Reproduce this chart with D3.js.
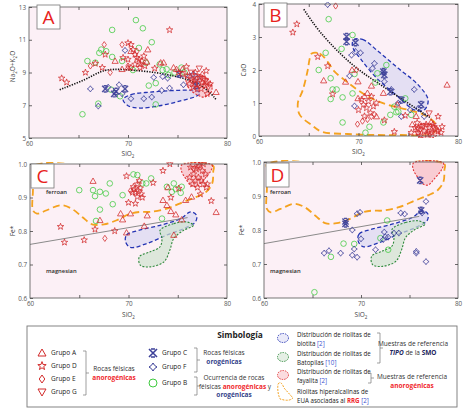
<!DOCTYPE html>
<html>
<head>
<meta charset="utf-8">
<script src="https://cdn.jsdelivr.net/npm/d3@7"></script>
<style>
  body { margin: 0; background: #fff; }
  svg { display: block; }
  text { font-family: "Open Sans", "DejaVu Sans", sans-serif; }
</style>
</head>
<body>
<div id="chart"></div>
<script>
// Diagramas de discriminación: A (álcalis), B (CaO), C y D (Fe*) vs SiO2

// ---- data: panel A  [SiO2, Na2O+K2O]
const aGroupA = [[72.0,10.4],[68.7,9.7],[70.0,9.3],[69.4,9.2],[73.6,9.6],[71.9,9.65],[78.9,7.8],[74.6,9.3],[74.9,9.2],[77.9,8.45],[70.3,10.3],[73.3,9.6],[75.5,9.2],[76.8,8.3],[77.5,8.9]]
const aGroupD = [[74.2,11.6],[63.3,8.65],[63.8,8.4],[65.7,9.0],[66.7,9.55],[67.4,9.3],[70.0,10.8],[70.3,10.7],[70.5,10.4],[70.7,10.1],[70.9,9.9],[71.1,9.8],[71.4,9.7],[71.6,10.0],[71.2,9.5],[70.7,9.5],[70.3,9.3],[71.2,9.3],[71.7,9.4],[70.0,9.8],[69.5,9.9],[67.7,10.1],[72.7,9.25],[77.9,9.1],[75.9,9.35],[76.0,8.8],[76.4,8.6],[76.8,8.5],[77.2,8.7],[77.5,8.4],[77.8,8.2],[76.6,8.1],[77.0,8.0],[77.4,8.0],[78.0,7.7],[76.2,8.3],[75.5,8.9],[76.8,9.0],[77.6,8.6],[78.3,8.3],[75.1,9.0]]
const aGroupE = [[67.6,10.7],[69.4,10.7],[70.9,10.3],[70.0,9.4],[66.2,9.4],[68.2,9.0],[76.5,8.5],[77.1,8.3]]
const aGroupG = [[77.2,9.25],[76.4,9.0],[77.8,8.5],[76.9,8.6],[78.1,8.1]]
const aGroupC = [[68.6,7.7],[68.8,7.85],[69.7,8.0],[67.7,8.0],[76.9,8.2],[75.2,8.9]]
const aGroupF = [[69.7,10.35],[66.2,8.0],[69.1,8.25],[68.0,8.1],[67.0,6.95],[69.4,7.7],[70.3,7.4],[71.6,7.4],[72.4,7.5],[73.4,7.9],[74.2,8.05],[73.5,8.75],[74.0,8.65],[72.6,8.7],[75.6,8.25],[76.2,8.75],[77.0,8.65],[76.6,8.9]]
const aGroupB = [[70.8,12.2],[71.5,11.7],[68.4,11.6],[72.4,10.85],[71.1,10.5],[67.3,10.4],[67.1,10.2],[67.8,10.3],[65.9,9.7],[66.7,9.6],[68.4,9.95],[69.4,9.7],[71.8,9.6],[73.2,9.5],[73.9,9.2],[73.5,9.15],[74.7,9.0],[75.4,9.3],[74.1,8.85],[75.7,9.0],[72.1,8.2],[72.8,8.35],[68.3,7.95],[69.2,7.55],[67.0,7.1],[72.8,7.05],[65.4,6.45],[70.5,9.15]]
const aTrend = [[63.1,7.95],[65.9,8.6],[67.2,9.1],[68.5,9.22],[70.5,9.15],[72.9,9.0],[74.6,8.8],[76.3,8.55],[78.0,8.0],[78.9,7.35]]
const aBiotite = [[69.5,7.35],[70.3,7.65],[72.2,7.8],[74.6,7.9],[76.6,7.9],[77.3,7.75],[76.9,7.55],[75.2,7.25],[73.2,6.97],[71.2,6.83],[70.0,6.97]]
const aFayalite = [[75.9,8.85],[77.4,8.85],[78.4,8.35],[78.4,7.8],[77.7,7.5],[77.1,7.6],[76.2,8.0],[75.9,8.4]]

// ---- data: panel B  [SiO2, CaO]
const bGroupA = [[78.9,1.55],[66.5,1.68],[69.35,2.0],[69.95,1.65],[68.7,1.64],[69.95,1.14],[71.3,1.52],[70.6,1.2],[71.8,0.59],[75.8,0.6],[77.3,0.42],[70.9,1.3],[72.5,1.3],[73.9,0.95],[75.4,0.35]]
const bGroupD = [[63.8,3.39],[63.4,3.14],[65.9,2.4],[66.9,2.12],[67.4,1.27],[70.0,0.79],[70.3,1.1],[70.5,0.95],[70.8,0.85],[71.0,1.05],[71.2,0.7],[71.5,0.9],[70.6,0.6],[71.8,1.0],[71.3,1.2],[72.6,0.48],[73.6,0.13],[78.0,0.59],[75.7,0.25],[76.0,0.1],[76.3,0.3],[76.6,0.15],[76.9,0.05],[77.1,0.25],[77.4,0.1],[77.7,0.2],[78.0,0.15],[78.3,0.1],[76.2,0.0],[76.8,0.35],[77.5,0.35],[75.9,0.4],[75.3,0.1],[78.4,0.28],[74.7,0.62]]
const bGroupE = [[67.7,3.94],[69.9,0.36],[70.4,0.45],[71.3,0.59],[71.6,0.65],[70.9,0.5],[69.8,2.0],[76.2,0.2],[77.0,0.12]]
const bGroupG = [[77.1,0.69],[76.5,0.3],[77.6,0.25],[76.0,0.2],[77.2,0.05]]
const bGroupC = [[68.8,3.01],[68.8,2.86],[69.7,2.83],[72.5,1.95],[72.6,1.85],[73.2,1.34],[74.3,1.09],[76.3,0.95]]
const bGroupF = [[66.9,3.98],[69.7,2.56],[69.3,2.45],[70.2,2.52],[71.6,2.2],[72.5,1.95],[72.6,1.65],[73.3,1.41],[75.6,1.41],[69.1,1.82],[69.6,0.91],[74.3,0.59],[75.2,0.79],[76.0,0.84],[76.6,0.59],[71.4,2.05],[74.0,1.0]]
const bGroupB = [[67.0,3.54],[69.4,3.06],[68.3,2.64],[66.7,2.52],[66.0,2.0],[67.2,1.75],[67.4,1.41],[67.8,1.41],[67.2,1.12],[68.4,1.17],[69.4,1.29],[69.6,1.88],[71.7,1.62],[72.8,2.15],[71.9,1.9],[73.6,0.89],[74.0,0.74],[74.7,1.14],[68.4,0.41],[71.1,0.28],[70.7,0.1],[75.3,0.64],[72.5,0.41],[73.2,0.64],[73.8,0.72]]
const bTrend = [[64.5,3.84],[65.9,3.21],[67.9,2.56],[69.95,2.0],[72.0,1.6],[74.0,1.19],[76.0,0.79],[77.3,0.54]]
const bBiotite = [[69.5,2.91],[70.4,2.93],[72.0,2.56],[74.0,2.05],[76.0,1.55],[77.0,1.09],[76.6,0.79],[75.6,0.79],[74.0,1.19],[72.0,1.7],[70.3,2.3],[69.4,2.71]]
const bFayalite = [[75.9,0.3],[76.8,0.36],[77.8,0.3],[78.1,0.12],[77.4,-0.06],[76.3,-0.04],[75.7,0.1]]
const bRRG = [[65.3,2.5],[66.1,2.5],[66.9,2.25],[67.6,1.95],[68.8,1.65],[69.95,1.39],[71.3,1.14],[73.0,0.94],[75.0,0.79],[76.6,0.64],[77.7,0.38],[77.7,0.13],[76.6,0.03],[74.3,0.03],[72.0,0.03],[68.9,0.06],[66.3,0.13],[65.3,0.33],[64.1,0.64],[63.9,0.99],[64.4,1.39],[64.9,2.0],[65.1,2.35]]

// ---- data: panel C  [SiO2, Fe*]
const cGroupA = [[66.4,0.949],[67.1,0.832],[69.2,0.852],[69.4,0.834],[70.2,0.852],[71.9,0.846],[73.5,0.892],[73.9,0.877],[74.3,0.859],[74.8,0.849],[75.4,0.834],[75.8,0.892],[76.4,0.902],[78.9,0.856],[74.6,0.788],[69.8,0.795],[71.6,0.815],[74.0,0.93]]
const cGroupD = [[63.1,0.813],[63.5,0.766],[65.5,0.773],[66.6,0.805],[68.6,0.8],[69.8,0.964],[70.0,0.885],[70.7,0.882],[70.9,0.902],[70.5,0.932],[70.6,0.925],[70.9,0.94],[71.1,0.95],[71.2,0.928],[70.7,0.915],[70.4,0.915],[71.0,0.92],[71.3,0.91],[71.4,0.9],[72.5,0.944],[74.2,1.0],[73.5,0.98],[74.3,0.9],[75.1,0.927],[76.3,0.99],[76.6,0.97],[76.9,0.985],[77.2,0.995],[77.5,0.98],[77.1,0.96],[76.8,0.95],[77.4,0.95],[77.8,0.97],[76.5,0.94],[77.0,0.93],[77.6,0.94],[78.0,0.94],[77.3,0.91],[78.4,0.89],[77.9,0.93],[76.2,0.96],[77.6,1.0]]
const cGroupE = [[67.6,0.778],[70.2,0.92]]
const cGroupG = [[77.0,0.99],[76.6,0.985]]
const cGroupB = [[65.0,0.922],[66.4,0.922],[67.1,0.917],[66.6,0.904],[67.7,0.912],[68.1,0.942],[68.4,0.88],[69.4,0.907],[67.1,0.864],[66.7,0.83],[70.5,0.969],[70.9,0.967],[71.4,0.942],[71.8,0.942],[72.3,0.957],[73.9,0.932],[74.6,0.942],[74.4,0.917],[75.4,0.932],[75.3,0.914],[73.4,0.837],[74.8,0.925]]

// ---- data: panel D  [SiO2, Fe*]
const dGroupC = [[68.4,0.825],[68.4,0.818],[76.1,0.946],[76.2,0.858]]
const dGroupF = [[69.6,0.848],[69.9,0.852],[69.1,0.8],[70.0,0.774],[66.2,0.732],[66.7,0.739],[67.9,0.732],[69.1,0.726],[69.6,0.72],[69.3,0.744],[71.5,0.742],[72.3,0.772],[72.4,0.794],[72.8,0.779],[73.4,0.791],[73.9,0.791],[74.1,0.85],[74.5,0.847],[76.2,0.855],[76.3,0.85],[76.7,0.884],[75.7,0.737],[75.7,0.732],[76.7,0.707],[72.5,0.78]]
const dGroupB = [[72.7,0.828],[72.0,0.776],[72.8,0.742],[68.2,0.76],[69.3,0.759],[66.9,0.721],[65.2,0.617]]

// ---- reference fields shared by C and D
const feBoundary = [[60,0.76],[76,0.84]]
const feRRG = [[60.3,0.994],[78.6,0.994],[78.6,0.977],[78.5,0.942],[77.9,0.917],[76.9,0.902],[75.6,0.887],[73.9,0.867],[72.2,0.857],[71.2,0.857],[70.2,0.852],[68.8,0.832],[67.5,0.82],[66.3,0.82],[65.3,0.842],[64.2,0.867],[63.1,0.877],[61.7,0.862],[60.7,0.852],[60.3,0.862],[60.3,0.922],[60.3,0.982]]
const feBiotite = [[69.7,0.768],[69.8,0.788],[71.2,0.803],[73.2,0.817],[75.3,0.837],[76.3,0.857],[76.9,0.847],[76.8,0.827],[75.6,0.807],[73.9,0.788],[71.9,0.763],[70.2,0.751]]
const feBatopilas = [[73.2,0.802],[74.6,0.822],[75.9,0.827],[76.6,0.817],[75.6,0.802],[74.6,0.778],[74.2,0.743],[73.6,0.708],[72.2,0.693],[71.2,0.698],[71.1,0.723],[72.2,0.738],[73.2,0.753],[73.4,0.778]]
const feFayalite = [[75.4,0.997],[78.5,0.997],[78.3,0.977],[77.6,0.952],[76.9,0.932],[76.3,0.937],[75.8,0.957],[75.4,0.977]]

// ---- tick labels
const xTicks = [60, 70, 80]
const xMinor = [65, 70, 75]
const aTicks = [5, 7, 9, 11, 13]
const bTicks = [0, 1, 2, 3, 4]
const feTicks = [0.6, 0.7, 0.8, 0.9, 1.0]

const RED = '#d22b2b', NAVY = '#3b3f98', GREEN = '#3fca3f'

const groupStyle = {
  A: { shape: 'tri', color: RED },
  D: { shape: 'star', color: RED },
  E: { shape: 'diam', color: RED },
  G: { shape: 'inv', color: RED },
  C: { shape: 'x', color: NAVY },
  F: { shape: 'diamF', color: NAVY },
  B: { shape: 'circle', color: GREEN },
}

const fieldStyle = {
  rrg: { stroke: '#f4a21f', width: 1.8, dash: '7,4', fill: 'none', op: 0 },
  bio: { stroke: '#2434b3', width: 1.3, dash: '4,2.5', fill: '#d4d4f2', op: 0.6 },
  bat: { stroke: '#2f8a3c', width: 1.1, dash: '2,1.5', fill: '#d0e2d0', op: 0.7 },
  fay: { stroke: '#e23333', width: 1.1, dash: '2,1.5', fill: '#f6a8b0', op: 0.5 },
}

function shapePath(type, r) {
  if (type === 'tri') return `M0,${-r}L${r},${r * 0.75}L${-r},${r * 0.75}Z`
  if (type === 'inv') return `M0,${r}L${r},${-r * 0.75}L${-r},${-r * 0.75}Z`
  if (type === 'diam') return `M0,${-r}L${r * 0.7},0L0,${r}L${-r * 0.7},0Z`
  if (type === 'diamF') {
    let c = r * 0.3
    return `M0,${-r}Q${c},${-c} ${r},0Q${c},${c} 0,${r}Q${-c},${c} ${-r},0Q${-c},${-c} 0,${-r}Z`
  }
  if (type === 'x') return `M${-r},${-r}L${r},${r}M${r},${-r}L${-r},${r}M${-r * 0.5},${-r}L${r * 0.5},${-r}M${-r * 0.5},${r}L${r * 0.5},${r}`
  if (type === 'star') {
    let p = ''
    for (let i = 0; i < 10; i++) {
      let rr = i % 2 ? r * 0.45 : r * 1.1
      let a = -Math.PI / 2 + i * Math.PI / 5
      p += (i ? 'L' : 'M') + (rr * Math.cos(a)).toFixed(2) + ',' + (rr * Math.sin(a)).toFixed(2)
    }
    return p + 'Z'
  }
  return `M${r},0A${r},${r} 0 1,1 ${-r},0A${r},${r} 0 1,1 ${r},0Z`
}

const svg = d3.select('#chart').append('svg')
  .attr('width', 463).attr('height', 411)

function sio2Label(g, x, y) {
  let t = g.append('text').attr('x', x).attr('y', y).attr('text-anchor', 'middle')
    .attr('font-size', 6.5).attr('fill', '#444')
  t.append('tspan').text('SiO')
  t.append('tspan').attr('font-size', 4.5).attr('dy', 1.5).text('2')
}

function drawPanel(p) {
  let g = svg.append('g')
  let x = d3.scaleLinear().domain([60, 80]).range([p.left, p.right])
  let y = d3.scaleLinear().domain(p.yDom).range([p.bottom, p.top])

  g.append('rect').attr('x', p.left).attr('y', p.top)
    .attr('width', p.right - p.left).attr('height', p.bottom - p.top)
    .attr('fill', '#fcf0f6')

  let clipId = 'clip' + p.letter
  svg.append('clipPath').attr('id', clipId).append('rect')
    .attr('x', p.left).attr('y', p.top - 2)
    .attr('width', p.right - p.left + 2).attr('height', p.bottom - p.top + 4)
  let inner = g.append('g').attr('clip-path', `url(#${clipId})`)

  // reference fields
  let area = d3.line().x((d) => x(d[0])).y((d) => y(d[1])).curve(d3.curveCatmullRomClosed.alpha(0.5))
  p.fields.forEach((f) => {
    let s = fieldStyle[f.type]
    inner.append('path').attr('d', area(f.data))
      .attr('fill', s.fill).attr('fill-opacity', s.op)
      .attr('stroke', s.stroke).attr('stroke-width', s.width)
      .attr('stroke-dasharray', s.dash)
  })

  if (p.boundary) {
    inner.append('path').attr('d', d3.line().x((d) => x(d[0])).y((d) => y(d[1]))(p.boundary))
      .attr('stroke', '#8a8a8a').attr('stroke-width', 1).attr('fill', 'none')
  }
  if (p.trend) {
    inner.append('path')
      .attr('d', d3.line().x((d) => x(d[0])).y((d) => y(d[1])).curve(d3.curveBasis)(p.trend))
      .attr('stroke', '#111').attr('stroke-width', 1.6).attr('fill', 'none')
      .attr('stroke-dasharray', '1.3,1.3')
  }

  // points
  p.points.forEach((set) => {
    let st = groupStyle[set.group]
    inner.selectAll(null).data(set.data).enter().append('path')
      .attr('transform', (d) => `translate(${x(d[0])},${y(d[1])})`)
      .attr('d', shapePath(st.shape, set.group === 'B' ? 2.8 : 3.1))
      .attr('fill', 'none').attr('stroke', st.color)
      .attr('stroke-width', st.shape === 'x' ? 1.4 : 0.85)
      .attr('stroke-opacity', 0.9)
  })

  // frame + ticks
  g.append('rect').attr('x', p.left).attr('y', p.top)
    .attr('width', p.right - p.left).attr('height', p.bottom - p.top)
    .attr('fill', 'none').attr('stroke', '#555').attr('stroke-width', 0.8)

  let axes = [
    [d3.axisBottom(x).tickValues(xMinor).tickSize(-3), `translate(0,${p.bottom})`],
    [d3.axisTop(x).tickValues(xMinor).tickSize(-3), `translate(0,${p.top})`],
    [d3.axisLeft(y).tickValues(p.yTicks).tickSize(-3), `translate(${p.left},0)`],
    [d3.axisRight(y).tickValues(p.yTicks).tickSize(-3), `translate(${p.right},0)`],
  ]
  axes.forEach(([ax, tr]) => {
    let a = g.append('g').attr('transform', tr).call(ax.tickFormat(''))
    a.select('.domain').remove()
    a.selectAll('line').attr('stroke', '#444').attr('stroke-width', 0.8)
  })

  let xl = g.append('g').attr('transform', `translate(0,${p.bottom})`)
    .call(d3.axisBottom(x).tickValues(xTicks).tickSize(0).tickPadding(4))
  let yl = g.append('g').attr('transform', `translate(${p.left},0)`)
    .call(d3.axisLeft(y).tickValues(p.yTicks).tickSize(0).tickPadding(3)
      .tickFormat(p.yFormat || d3.format('d')))
  ;[xl, yl].forEach((a) => {
    a.select('.domain').remove()
    a.selectAll('text').attr('font-size', 6.3).attr('fill', '#555')
      .attr('font-family', '"Liberation Sans", Arial, sans-serif')
  })

  sio2Label(g, (p.left + p.right) / 2, p.xLabelY)

  let yt = g.append('text')
    .attr('transform', `translate(${p.yLabelX},${(p.top + p.bottom) / 2 - (p.letter === 'A' ? 6 : 0)}) rotate(-90)`)
    .attr('text-anchor', 'middle').attr('font-size', 6.5).attr('fill', '#444')
  p.yLabel.forEach((part) => {
    let ts = yt.append('tspan').text(part[0])
    if (part[1]) ts.attr('font-size', 4.5).attr('dy', 1.5)
    else if (part[2]) ts.attr('dy', -1.5)
  })

  // panel letter
  g.append('rect').attr('x', p.box[0]).attr('y', p.box[1]).attr('width', 23).attr('height', 24)
    .attr('fill', '#fff').attr('stroke', '#777').attr('stroke-width', 0.8)
  g.append('text').attr('x', p.box[0] + 11.5).attr('y', p.box[1] + 19)
    .attr('text-anchor', 'middle').attr('font-size', 19).attr('fill', '#e8221c')
    .attr('font-family', '"Liberation Sans", Arial, sans-serif').text(p.letter)

  if (p.labels) {
    g.append('text').attr('x', p.labels[0]).attr('y', 194).attr('font-size', 5.8)
      .attr('font-weight', 600).attr('fill', '#2a2a2a').text('ferroan')
    g.append('text').attr('x', p.labels[0]).attr('y', 273).attr('font-size', 5.8)
      .attr('font-weight', 600).attr('fill', '#2a2a2a').text('magnesian')
  }
}

const redGreenOrder = (A, D, E, G, C, F, B) => [
  { group: 'B', data: B }, { group: 'C', data: C }, { group: 'F', data: F },
  { group: 'E', data: E }, { group: 'A', data: A }, { group: 'G', data: G }, { group: 'D', data: D },
]

drawPanel({
  letter: 'A', left: 29, right: 227, top: 7, bottom: 138, yDom: [5, 13], yTicks: aTicks,
  box: [37, 5], xLabelY: 156, yLabelX: 15,
  yLabel: [['Na'], ['2', true], ['O+K', false, true], ['2', true], ['O', false, true]],
  fields: [{ type: 'bio', data: aBiotite }, { type: 'fay', data: aFayalite }],
  trend: aTrend,
  points: redGreenOrder(aGroupA, aGroupD, aGroupE, aGroupG, aGroupC, aGroupF, aGroupB),
})

drawPanel({
  letter: 'B', left: 259, right: 458, top: 4, bottom: 136, yDom: [0, 4], yTicks: bTicks,
  box: [264, 3], xLabelY: 154, yLabelX: 246,
  yLabel: [['CaO']],
  fields: [{ type: 'bio', data: bBiotite }, { type: 'rrg', data: bRRG }, { type: 'fay', data: bFayalite }],
  trend: bTrend,
  points: redGreenOrder(bGroupA, bGroupD, bGroupE, bGroupG, bGroupC, bGroupF, bGroupB),
})

drawPanel({
  letter: 'C', left: 30, right: 227, top: 164, bottom: 298, yDom: [0.6, 1.0], yTicks: feTicks,
  yFormat: d3.format('.1f'), box: [31, 164], xLabelY: 317, yLabelX: 15,
  yLabel: [['Fe*']], labels: [46],
  fields: [{ type: 'rrg', data: feRRG }, { type: 'bio', data: feBiotite },
    { type: 'bat', data: feBatopilas }, { type: 'fay', data: feFayalite }],
  boundary: feBoundary,
  points: redGreenOrder(cGroupA, cGroupD, cGroupE, cGroupG, [], [], cGroupB),
})

drawPanel({
  letter: 'D', left: 264, right: 458, top: 162, bottom: 298, yDom: [0.6, 1.0], yTicks: feTicks,
  yFormat: d3.format('.1f'), box: [266, 163], xLabelY: 317, yLabelX: 244,
  yLabel: [['Fe*']], labels: [270],
  fields: [{ type: 'rrg', data: feRRG }, { type: 'bio', data: feBiotite },
    { type: 'bat', data: feBatopilas }, { type: 'fay', data: feFayalite }],
  boundary: feBoundary,
  points: redGreenOrder([], [], [], [], dGroupC, dGroupF, dGroupB),
})

// ---- legend
const lg = svg.append('g')
lg.append('rect').attr('x', 27).attr('y', 326).attr('width', 430).attr('height', 81)
  .attr('fill', '#fff').attr('stroke', '#777').attr('stroke-width', 0.9)
lg.append('text').attr('x', 240).attr('y', 338).attr('text-anchor', 'middle')
  .attr('font-size', 8.3).attr('font-weight', 'bold').attr('fill', '#222').text('Simbología')

const SERIF = '"Liberation Serif", "DejaVu Serif", serif'

function legendItem(group, sx, ty, label) {
  let st = groupStyle[group]
  lg.append('path').attr('transform', `translate(${sx},${ty})`)
    .attr('d', shapePath(st.shape, 4)).attr('fill', 'none').attr('stroke', st.color)
    .attr('stroke-width', st.shape === 'x' ? 1.6 : 1)
  lg.append('text').attr('x', sx + 9).attr('y', ty + 2.4).attr('font-size', 6.5)
    .attr('fill', '#222').text(label)
}

function bracket(x, y1, y2, dir) {
  let d = dir * 3
  lg.append('path')
    .attr('d', `M${x},${y1}L${x + d},${y1}L${x + d},${y2}L${x},${y2}M${x + d},${(y1 + y2) / 2}L${x + d * 2},${(y1 + y2) / 2}`)
    .attr('fill', 'none').attr('stroke', '#777').attr('stroke-width', 0.7)
}

function richText(x, y, parts, size, anchor) {
  let t = lg.append('text').attr('x', x).attr('y', y).attr('font-size', size || 6.5)
    .attr('text-anchor', anchor || 'middle').attr('font-family', SERIF).attr('fill', '#333')
  parts.forEach((p) => {
    let ts = t.append('tspan').text(p[0])
    if (p[1]) ts.attr('fill', p[1]).attr('font-weight', 'bold')
    if (p[2]) ts.attr('font-style', 'italic')
  })
  return t
}

legendItem('A', 42, 353, 'Grupo A')
legendItem('D', 42, 366, 'Grupo D')
legendItem('E', 42, 379, 'Grupo E')
legendItem('G', 42, 392, 'Grupo G')
bracket(83, 351, 395, 1)
richText(114, 371, [['Rocas félsicas']])
richText(114, 380, [['anorogénicas', '#f0282d']])

legendItem('C', 153, 353, 'Grupo C')
legendItem('F', 153, 367, 'Grupo F')
legendItem('B', 153, 383, 'Grupo B')
bracket(194, 348, 372, 1)
richText(224, 355, [['Rocas félsicas']])
richText(224, 364, [['orogénicas', '#34428a']])
bracket(194, 377, 395, 1)
richText(234, 380, [['Ocurrencia de rocas']])
richText(235, 388.5, [['félsicas '], ['anorogénicas', '#f0282d'], [' y']])
richText(234, 397, [['orogénicas', '#34428a']])

const legendFields = [
  { type: 'bio', cy: 338, l1: 'Distribución de riolitas de', l2: [['biotita '], ['[2]', '#3a4fd0']] },
  { type: 'bat', cy: 357, l1: 'Distribución de riolitas de', l2: [['Batopilas '], ['[10]', '#3a4fd0']] },
  { type: 'fay', cy: 375, l1: 'Distribución de riolitas de', l2: [['fayalita '], ['[2]', '#3a4fd0']] },
]
legendFields.forEach((f) => {
  let s = fieldStyle[f.type]
  lg.append('ellipse').attr('cx', 283).attr('cy', f.cy).attr('rx', 5.5).attr('ry', 4.5)
    .attr('fill', s.fill).attr('fill-opacity', s.op * 0.8)
    .attr('stroke', s.stroke).attr('stroke-width', 0.9).attr('stroke-dasharray', '1.5,1')
  lg.append('text').attr('x', 297).attr('y', f.cy - 1).attr('font-size', 6.2)
    .attr('fill', '#222').text(f.l1)
  let t = lg.append('text').attr('x', 297).attr('y', f.cy + 7.5).attr('font-size', 6.2).attr('fill', '#222')
  f.l2.forEach((p) => {
    let ts = t.append('tspan').text(p[0])
    if (p[1]) ts.attr('fill', p[1])
  })
})
lg.append('path').attr('d', 'M278,384Q281,380 284,388L293,398Q290,401 284,400L280,399Q277,392 278,384Z')
  .attr('fill', 'none').attr('stroke', '#f4a21f').attr('stroke-width', 1).attr('stroke-dasharray', '2,1.2')
lg.append('text').attr('x', 297).attr('y', 394).attr('font-size', 6.2).attr('fill', '#222')
  .text('Riolitas hiperalcalinas de')
let rrgT = lg.append('text').attr('x', 297).attr('y', 402.5).attr('font-size', 6.2).attr('fill', '#222')
rrgT.append('tspan').text('EUA asociadas al ')
rrgT.append('tspan').attr('fill', '#f0282d').attr('font-weight', 'bold').text('RRG')
rrgT.append('tspan').attr('fill', '#3a4fd0').text(' [2]')

bracket(377, 333, 363, 1)
richText(413, 346, [['Muestras de referencia']])
richText(413, 355, [['TIPO', '#1d2560', true], [' de la '], ['SMO', '#1d2560']])
bracket(368, 373, 383, 1)
richText(412, 379, [['Muestras de referencia']])
richText(412, 388, [['anorogénicas', '#f0282d']])
</script>
</body>
</html>
